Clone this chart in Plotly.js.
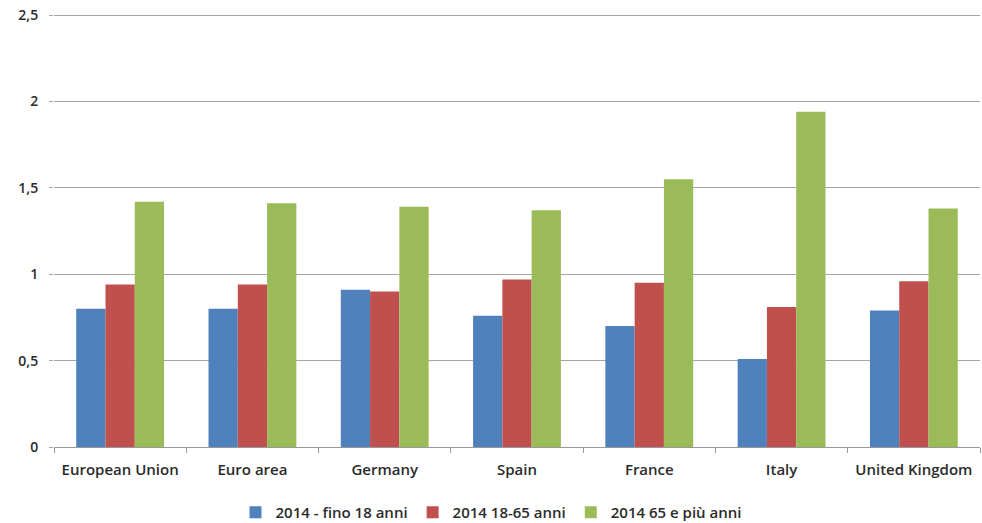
<!DOCTYPE html>
<html>
<head>
<meta charset="utf-8">
<script src="https://cdn.plot.ly/plotly-3.0.1.min.js"></script>
<style>
  html, body { margin: 0; padding: 0; background: #ffffff; }
  #chart { width: 982px; height: 523px; }
</style>
</head>
<body>
<div id="chart"></div>
<script>
// Countries / areas on the x axis
const categories = ["European Union", "Euro area", "Germany", "Spain", "France", "Italy", "United Kingdom"];

// Series names
const seriesNames = ["2014 - fino 18 anni", "2014 18-65 anni", "2014 65 e più anni"];

// Values per series, in category order
const under18 = [0.80, 0.80, 0.91, 0.76, 0.70, 0.51, 0.79];
const age18to65 = [0.94, 0.94, 0.90, 0.97, 0.95, 0.81, 0.96];
const over65 = [1.42, 1.41, 1.39, 1.37, 1.55, 1.94, 1.38];

// Y axis ticks
const yTickVals = [0, 0.5, 1, 1.5, 2, 2.5];
const yTickText = ["0", "0,5", "1", "1,5", "2", "2,5"];

const colors = ["#4F81BD", "#C0504D", "#9BBB59"];
const seriesValues = [under18, age18to65, over65];

const traces = seriesValues.map((vals, i) => ({
  type: "bar",
  name: seriesNames[i],
  x: categories,
  y: vals,
  marker: { color: colors[i], line: { width: 0 } },
  hoverinfo: "x+y+name"
}));

const fontFamily = "'Open Sans', Lato, sans-serif";
const xLabelFont = { family: fontFamily, size: 15, weight: 600, color: "#2b2b2b" };
const yLabelFont = { family: fontFamily, size: 14, weight: 600, color: "#2b2b2b" };

const layout = {
  width: 982,
  height: 523,
  // a hair of headroom above 2.5 so its gridline is still drawn
  margin: { l: 54, r: 2, t: 14, b: 76, autoexpand: false },
  paper_bgcolor: "#ffffff",
  plot_bgcolor: "#ffffff",
  barmode: "group",
  bargap: 0.336,
  bargroupgap: 0,
  separators: ",.",
  font: yLabelFont,
  showlegend: true,
  legend: {
    orientation: "h",
    x: 0.5,
    xref: "container",
    xanchor: "center",
    y: 0.02,
    yref: "container",
    yanchor: "middle",
    font: { family: fontFamily, size: 15, weight: 600, color: "#2b2b2b" },
    traceorder: "normal",
    itemwidth: 30
  },
  xaxis: {
    type: "category",
    tickson: "boundaries",
    ticks: "outside",
    ticklen: 5,
    tickcolor: "#999999",
    showline: true,
    linecolor: "#999999",
    linewidth: 1,
    showgrid: false,
    tickfont: xLabelFont,
    ticklabelstandoff: 9,
    fixedrange: true
  },
  yaxis: {
    range: [0, 2.506],
    tickvals: yTickVals,
    ticktext: yTickText,
    ticks: "outside",
    ticklen: 4,
    tickcolor: "#a6a6a6",
    showgrid: true,
    gridcolor: "#a6a6a6",
    gridwidth: 1,
    showline: false,
    zeroline: false,
    tickfont: yLabelFont,
    ticklabelstandoff: 8,
    fixedrange: true
  }
};

Plotly.newPlot("chart", traces, layout, { displayModeBar: false, staticPlot: true });
</script>
</body>
</html>
